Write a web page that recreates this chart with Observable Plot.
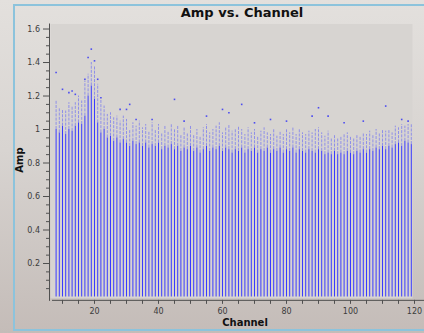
<!DOCTYPE html>
<html>
<head>
<meta charset="utf-8">
<script src="https://cdn.jsdelivr.net/npm/d3@7"></script>
<script src="https://cdn.jsdelivr.net/npm/@observablehq/plot@0.6"></script>
<style>
  html, body { margin: 0; padding: 0; }
  body { width: 424px; height: 333px; overflow: hidden; font-family: "DejaVu Sans", sans-serif; }
  #panel { position: relative; width: 424px; height: 333px;
    background: linear-gradient(#e3e0dd 0%, #d8d4d1 45%, #c4bcb8 100%); }
  #border { position: absolute; left: 13px; top: 4px; width: 420px; height: 323px;
    border-left: 2px solid #8cc3dc; border-top: 2px solid #8cc3dc; border-bottom: 2px solid #8cc3dc; }
  #chart { position: absolute; left: 0; top: 0; }
  .lbl { position: absolute; font-weight: bold; color: #111; white-space: nowrap; line-height: 1; }
  #title { left: 0; width: 484px; text-align: center; top: 6px; font-size: 13px; }
  #xlab { left: 0; width: 490px; text-align: center; top: 318px; font-size: 10px; }
  #ylab { left: 20px; top: 160px; font-size: 10px; transform: translate(-50%, -50%) rotate(-90deg); }
</style>
</head>
<body>
<div id="panel">
  <div id="border"></div>
  <div id="chart"></div>
  <div class="lbl" id="title">Amp vs. Channel</div>
  <div class="lbl" id="xlab">Channel</div>
  <div class="lbl" id="ylab">Amp</div>
</div>
<script>
const channels = [8,9,10,11,12,13,14,15,16,17,18,19,20,21,22,23,24,25,26,27,28,29,30,31,32,33,34,35,36,37,38,39,40,41,42,43,44,45,46,47,48,49,50,51,52,53,54,55,56,57,58,59,60,61,62,63,64,65,66,67,68,69,70,71,72,73,74,75,76,77,78,79,80,81,82,83,84,85,86,87,88,89,90,91,92,93,94,95,96,97,98,99,100,101,102,103,104,105,106,107,108,109,110,111,112,113,114,115,116,117,118,119];
// top of the solid (dense) part of each channel's amplitude column
const denseTop = [1.00,0.98,1.02,0.97,1.00,0.99,1.02,1.04,1.03,1.08,1.20,1.26,1.18,1.04,0.98,1.00,0.95,0.96,0.93,0.95,0.92,0.94,0.92,0.90,0.93,0.91,0.92,0.90,0.92,0.89,0.91,0.90,0.92,0.88,0.90,0.89,0.91,0.88,0.90,0.87,0.89,0.88,0.90,0.87,0.89,0.86,0.88,0.90,0.87,0.89,0.88,0.90,0.87,0.89,0.88,0.86,0.88,0.87,0.89,0.86,0.88,0.87,0.89,0.86,0.88,0.87,0.89,0.86,0.88,0.87,0.89,0.86,0.88,0.87,0.89,0.86,0.88,0.87,0.86,0.88,0.87,0.86,0.88,0.87,0.85,0.86,0.85,0.87,0.85,0.86,0.85,0.87,0.86,0.85,0.87,0.86,0.88,0.86,0.88,0.87,0.89,0.88,0.90,0.88,0.90,0.89,0.91,0.92,0.90,0.93,0.92,0.91];
// top of the sparser scatter above the dense part
const spreadTop = [1.17,1.13,1.12,1.11,1.16,1.14,1.16,1.20,1.17,1.29,1.33,1.40,1.38,1.27,1.18,1.14,1.09,1.10,1.07,1.08,1.05,1.08,1.06,1.00,1.04,1.02,1.05,1.01,1.03,0.99,1.04,1.00,1.03,0.98,1.02,0.99,1.03,1.00,1.02,0.97,1.01,0.98,1.02,0.97,1.00,0.96,1.01,1.03,0.98,1.00,1.02,1.04,0.98,1.01,1.03,0.99,1.00,1.02,1.00,0.97,1.01,0.98,1.00,0.96,0.99,1.01,0.98,0.97,1.00,0.96,0.99,0.97,1.00,0.98,1.01,0.97,1.00,0.98,0.97,0.99,0.98,1.00,1.01,0.98,0.96,0.99,0.95,0.97,0.95,0.96,0.97,0.98,0.96,0.95,0.97,0.96,0.98,0.97,0.99,0.97,1.00,0.98,1.00,0.99,1.00,0.98,1.02,1.01,1.03,1.02,1.03,1.03];
// isolated high points
const outCh  = [8,10,12,13,14,17,18,19,20,21,22,28,30,31,33,38,45,48,55,60,62,66,70,75,80,88,90,93,98,104,111,116,118];
const outAmp = [1.34,1.24,1.22,1.23,1.21,1.30,1.43,1.48,1.41,1.30,1.19,1.12,1.12,1.15,1.06,1.06,1.18,1.05,1.08,1.12,1.10,1.15,1.04,1.06,1.05,1.08,1.13,1.08,1.04,1.05,1.14,1.06,1.05];
const xTicks = [20,40,60,80,100,120];
const xMinor = [10,15,25,30,35,45,50,55,65,70,75,85,90,95,105,110,115];
const yTicks = [0.2,0.4,0.6,0.8,1,1.2,1.4,1.6];
const yMinor = [0.05,0.1,0.15,0.25,0.3,0.35,0.45,0.5,0.55,0.65,0.7,0.75,0.85,0.9,0.95,1.05,1.1,1.15,1.25,1.3,1.35,1.45,1.5,1.55];

const cols = channels.map((c, i) => ({c, d: denseTop[i], s: spreadTop[i]}));
const outs = outCh.map((c, i) => ({c, a: outAmp[i]}));
const axisColor = "#505050";

const chart = Plot.plot({
  width: 424, height: 333,
  marginLeft: 50, marginRight: 0, marginTop: 23.5, marginBottom: 33.15,
  x: {domain: [6.25, 123.125]},
  y: {domain: [-0.02, 1.63]},
  style: {background: "transparent", fontFamily: "DejaVu Sans", fontSize: "8px", color: "#3c3c3c"},
  marks: [
    Plot.frame({fill: "#d7d4d1", stroke: null, insetRight: 12, insetBottom: 2}),
    Plot.ruleX(cols, {x: "c", y1: 0, y2: "d", stroke: "#3a3aff", strokeWidth: 1}),
    Plot.ruleX(cols, {x: "c", y1: "d", y2: "s", stroke: "#8f8fe8", strokeWidth: 1, strokeDasharray: "3,1.2"}),
    Plot.dot(outs, {x: "c", y: "a", r: 0.9, symbol: "square", fill: "#4c4cf0", stroke: null}),
    Plot.frame({anchor: "left", stroke: axisColor, dx: -1}),
    Plot.frame({anchor: "bottom", stroke: axisColor, insetLeft: 2}),
    Plot.axisY({ticks: yTicks, tickFormat: d => String(d), tickSize: 6, tickPadding: 3.5, dx: -1, label: null, stroke: axisColor}),
    Plot.axisY({ticks: yMinor, tickFormat: null, text: null, tickSize: 3, dx: -1, label: null, stroke: axisColor}),
    Plot.axisX({ticks: xTicks, tickFormat: d => String(d), tickSize: 4, tickPadding: 4, label: null, stroke: axisColor}),
    Plot.axisX({ticks: xMinor, text: null, tickSize: 4, label: null, stroke: axisColor})
  ]
});
document.getElementById("chart").appendChild(chart);
</script>
</body>
</html>
